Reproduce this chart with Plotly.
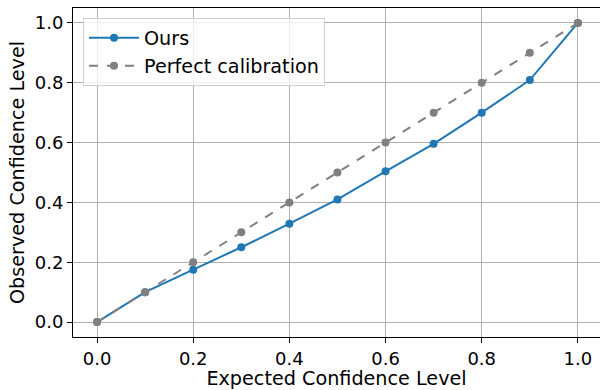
import plotly.graph_objects as go

expected = [0.0, 0.1, 0.2, 0.3, 0.4, 0.5, 0.6, 0.7, 0.8, 0.9, 1.0]
ours = [0.0, 0.1, 0.175, 0.250, 0.329, 0.410, 0.504, 0.596, 0.700, 0.809, 1.0]
perfect = [0.0, 0.1, 0.2, 0.3, 0.4, 0.5, 0.6, 0.7, 0.8, 0.9, 1.0]
tick_vals = [0.0, 0.2, 0.4, 0.6, 0.8, 1.0]
tick_text = ["0.0", "0.2", "0.4", "0.6", "0.8", "1.0"]

FONT = "DejaVu Sans"
FS = 18
FT = 19.2
fig = go.Figure()
fig.add_trace(go.Scatter(x=expected, y=ours, mode="lines+markers", name="Ours",
                         line=dict(color="#1f77b4", width=2),
                         marker=dict(color="#1f77b4", size=8)))
fig.add_trace(go.Scatter(x=expected, y=perfect, mode="lines+markers", name="Perfect calibration",
                         line=dict(color="#808080", width=2, dash="dash"),
                         marker=dict(color="#808080", size=8)))

axis_common = dict(showgrid=True, gridcolor="#b0b0b0", gridwidth=1,
                   showline=True, linecolor="black", linewidth=1, mirror=True,
                   ticks="outside", ticklen=5, tickcolor="black",
                   zeroline=False, tickvals=tick_vals, ticktext=tick_text,
                   automargin=False,
                   tickfont=dict(family=FONT, size=FS, color="black"))
fig.update_xaxes(range=[-0.05, 1.046],
                 title=dict(text="Expected Confidence Level", standoff=1,
                            font=dict(family=FONT, size=FT, color="black")),
                 **axis_common)
fig.update_yaxes(range=[-0.05, 1.05],
                 title=dict(text="Observed Confidence Level", standoff=5,
                            font=dict(family=FONT, size=FT, color="black")),
                 **axis_common)
fig.update_layout(width=600, height=390,
                  margin=dict(l=73, r=0, t=8, b=53, autoexpand=False),
                  plot_bgcolor="white", paper_bgcolor="white",
                  font=dict(family=FONT, size=FS, color="black"),
                  legend=dict(x=0.019, y=0.97, xanchor="left", yanchor="top",
                              bgcolor="rgba(255,255,255,0.8)",
                              bordercolor="#d0d0d0", borderwidth=1,
                              font=dict(family=FONT, size=FT, color="black"),
                              itemwidth=50, tracegroupgap=0))
fig.write_html("out.html", config={"displayModeBar": False},
               post_script="document.body.style.margin='0';document.body.style.padding='0';window.dispatchEvent(new Event('resize'));")
